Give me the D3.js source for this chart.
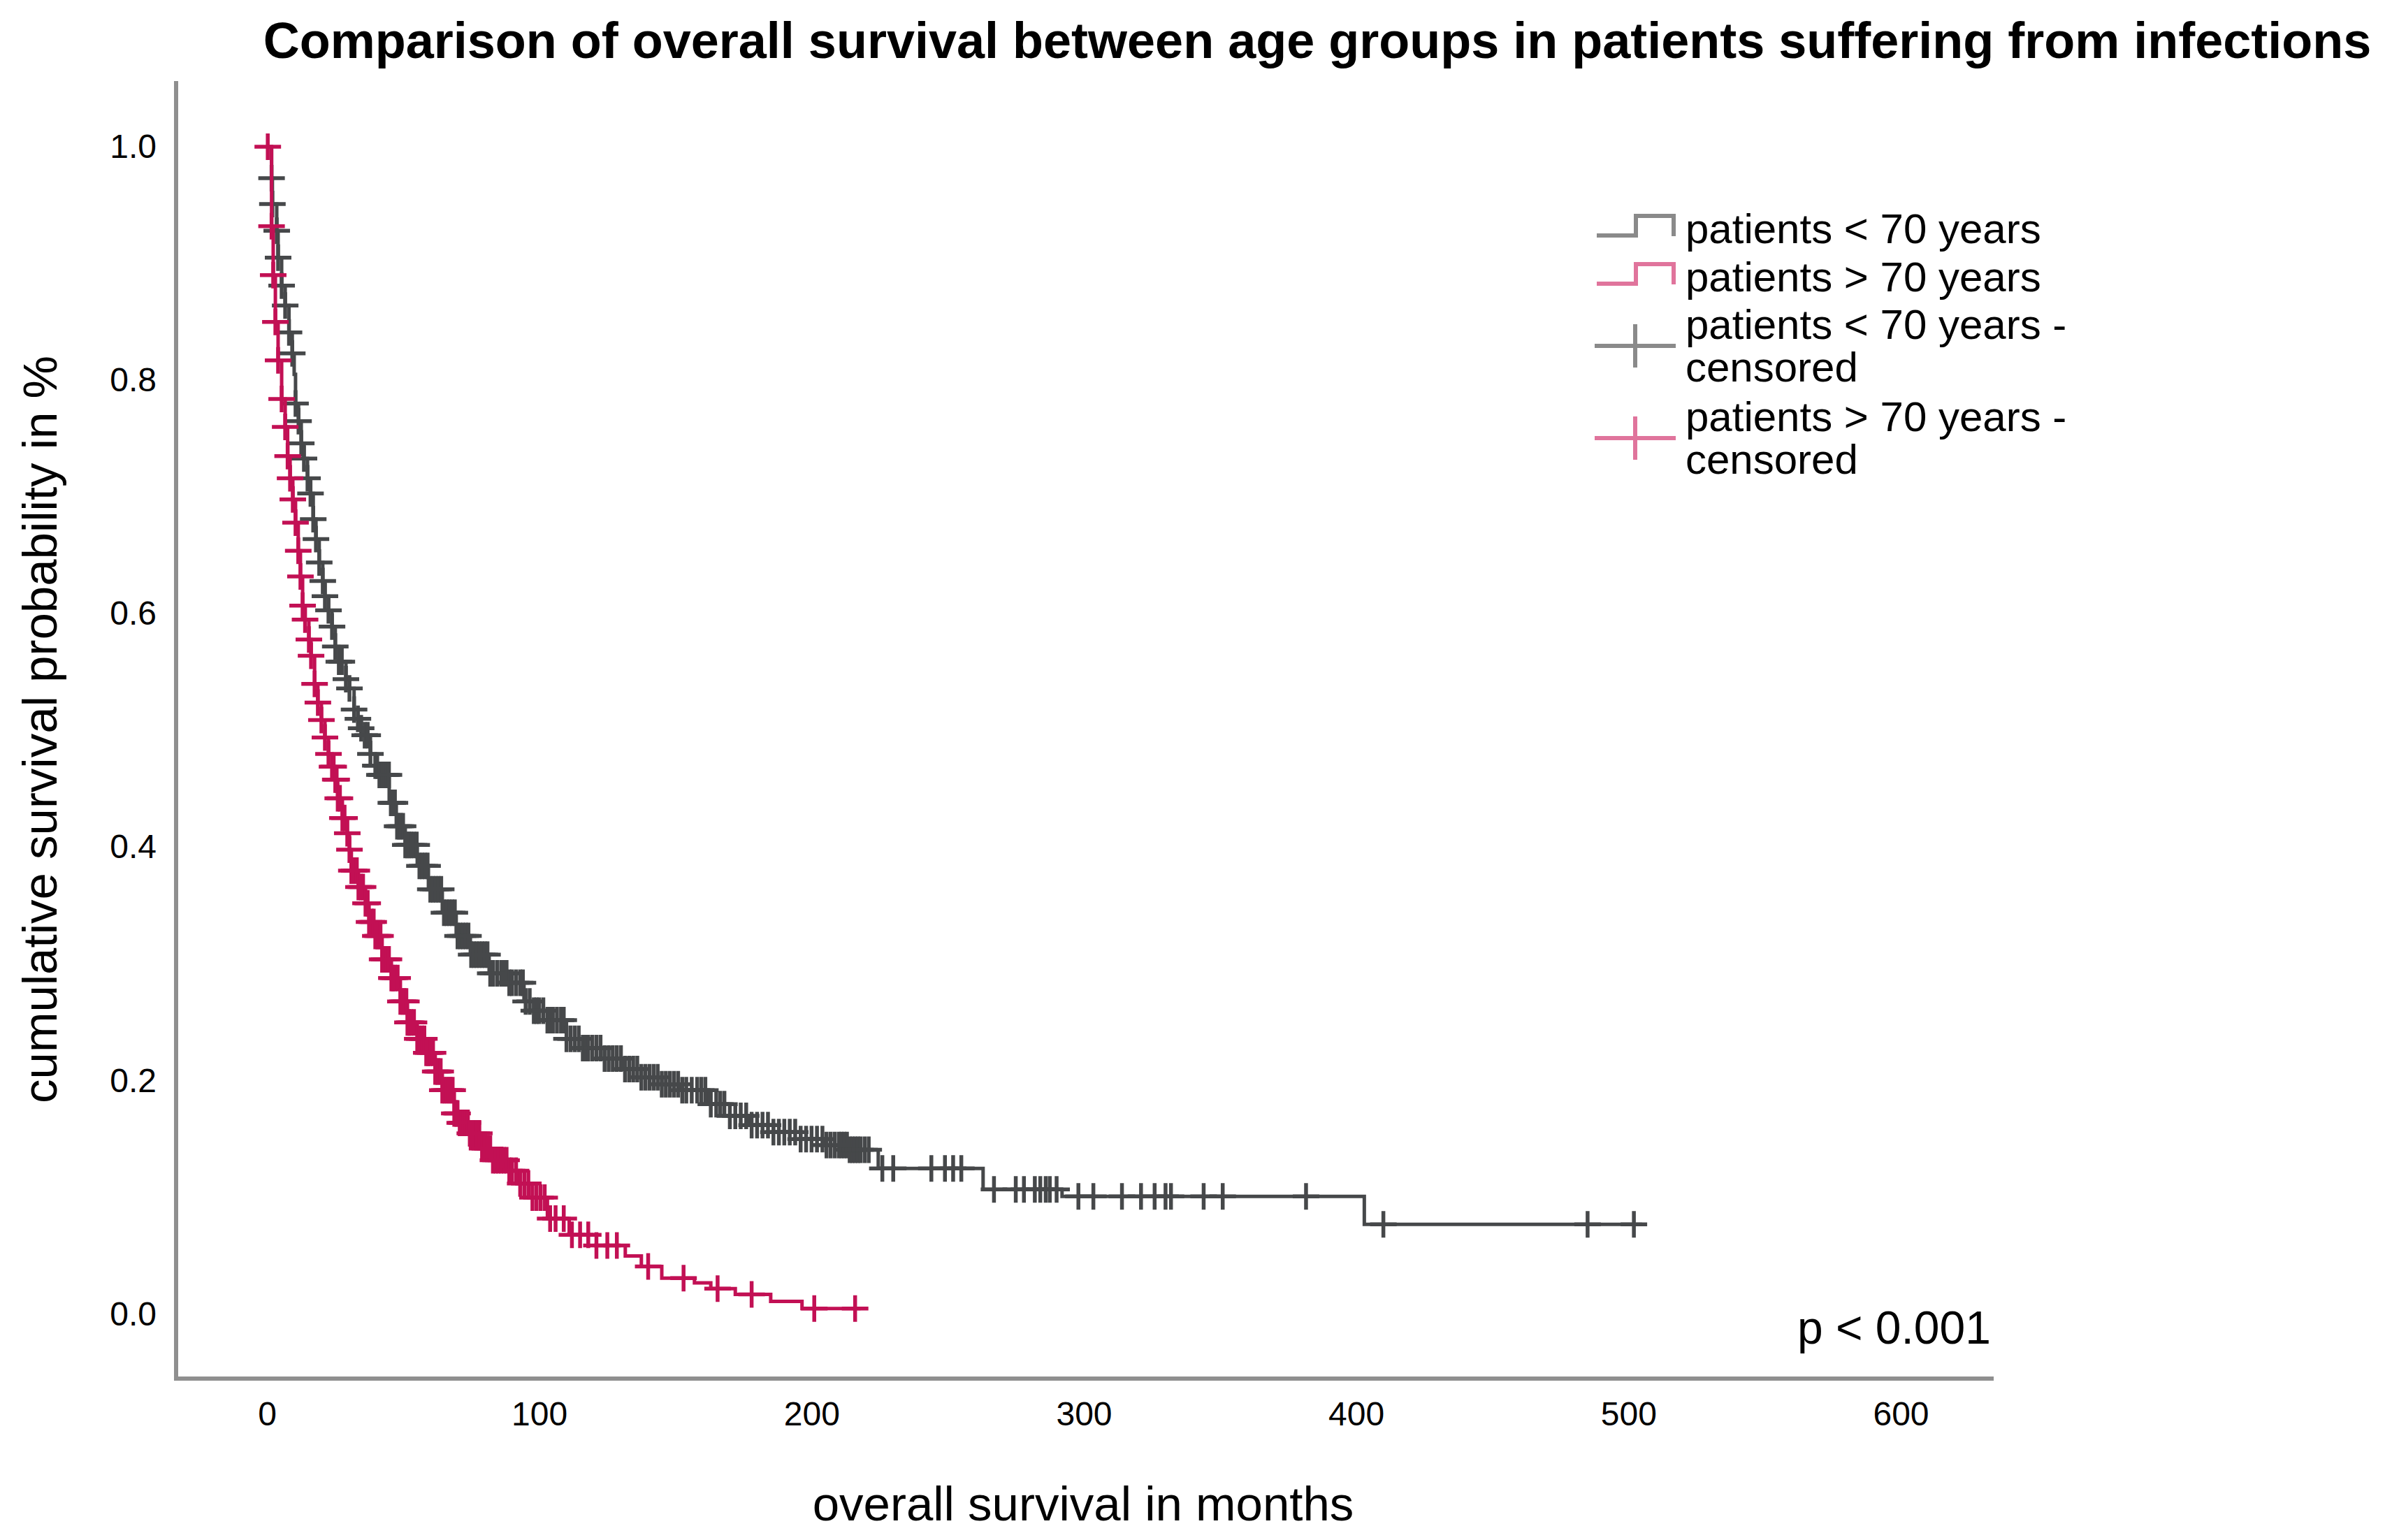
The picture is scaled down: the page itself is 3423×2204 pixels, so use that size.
<!DOCTYPE html>
<html>
<head>
<meta charset="utf-8">
<script src="https://cdn.jsdelivr.net/npm/d3@7"></script>
<style>
  html, body { margin: 0; padding: 0; background: #fff; }
  svg { display: block; font-family: "Liberation Sans", Arial, sans-serif; }
</style>
</head>
<body>
<div id="chart"></div>
<script>
// Kaplan-Meier steps (months, survival)
const youngTimes = [0, 1.7, 2, 3.6, 4.1, 5.4, 6.7, 8.1, 9.3, 10, 10.5, 11.6, 12.6, 13.6, 14.9, 16, 17, 18, 19.2, 20.5,
  21.3, 22.6, 23.9, 25.1, 26.4, 29, 30.3, 32, 33.4, 34.6, 35.9, 38, 39.8, 41.3, 44.9, 47.5, 50.8, 55.2, 59.3, 64.4,
  69.5, 74.7, 81.6, 88.5, 94.4, 98, 103, 110, 116, 122.7, 131, 137.5, 145, 152, 162, 170, 177, 186, 196, 205,
  214, 224.5, 263, 292, 403]
const youngSurv = [1, 0.973, 0.951, 0.928, 0.905, 0.881, 0.864, 0.841, 0.823, 0.805, 0.78, 0.765, 0.746, 0.733, 0.716, 0.703, 0.681, 0.664, 0.644, 0.628,
  0.615, 0.603, 0.589, 0.572, 0.559, 0.544, 0.536, 0.518, 0.51, 0.502, 0.496, 0.48, 0.47, 0.462, 0.438, 0.418, 0.402, 0.384, 0.364, 0.344,
  0.324, 0.308, 0.292, 0.284, 0.268, 0.26, 0.252, 0.236, 0.228, 0.219, 0.21, 0.203, 0.197, 0.192, 0.18, 0.17, 0.162, 0.156, 0.15, 0.145,
  0.141, 0.125, 0.107, 0.101, 0.077]
const youngEnd = 505
const youngCensored = [1.7, 2, 3.6, 4.1, 5.4, 6.7, 8.1, 9.3, 10.5, 11.6, 12.6, 13.6, 14.9, 16, 17, 18, 19.2, 20.5, 21.3, 22.6,
  23.9, 25.1, 26.4, 27.5, 29, 30.3, 32, 33.4, 34.6, 35.9, 37, 38, 39.8, 40.5, 41.3, 42, 42.5, 43.3, 44, 44.8,
  45.5, 46.2, 47, 47.8, 48.5, 49.2, 50, 50.8, 51.5, 52.3, 53, 54, 55, 56, 57, 58, 59, 60, 61, 62,
  63, 64, 65, 66, 67, 68, 69, 70, 71, 72, 73, 74, 75, 76, 77, 78, 79, 80, 81, 82,
  83, 84.5, 86, 87, 88, 89, 90, 91.5, 93, 94, 95, 96.5, 98, 99, 100, 101.5, 103, 104, 105, 106.5,
  108, 109, 110, 111.5, 113, 114.5, 116, 117, 118, 119.5, 121, 122.5, 124, 125.5, 127, 128.5, 130, 131.5, 133, 134.5,
  136, 137.5, 139, 140.5, 142, 143.5, 145, 146.5, 148, 149.5, 151, 152.5, 154, 156, 158, 159.5, 161, 163, 165, 166.5,
  168, 170, 172, 174, 176, 178, 180, 182, 184, 186, 188, 190, 192, 194, 196, 198, 200, 202, 204, 205.5,
  207, 208.5, 210, 211, 212, 213, 214, 215, 216, 217, 218, 219.5, 221, 226, 230, 244, 249, 252, 255, 267,
  275, 278, 282, 284, 286, 287.5, 290, 298, 303.5, 314, 321, 326, 330, 332, 344, 351, 381.6, 410, 485, 502]

const oldTimes = [0, 1.7, 2.3, 3.1, 4.1, 5.4, 6.7, 7.6, 8.5, 9.5, 10.5, 11.5, 12.3, 13.1, 14, 15.4, 16.2, 17.5, 18.7, 20,
  21.3, 22.6, 23.9, 25.1, 26, 27.7, 29.5, 30.3, 31, 33.6, 36.2, 37.5, 39.8, 42.3, 45.7, 49, 51.6, 55.2, 58.5, 61.8,
  64.4, 68.8, 70.8, 74, 78.5, 83, 88.5, 92, 96.2, 103, 111, 121, 131.6, 137.5, 145, 157, 163, 172, 185, 196.5]
const oldSurv = [1, 0.932, 0.89, 0.85, 0.817, 0.784, 0.76, 0.735, 0.716, 0.698, 0.678, 0.654, 0.632, 0.607, 0.595, 0.578, 0.564, 0.54, 0.524, 0.509,
  0.494, 0.48, 0.469, 0.458, 0.442, 0.425, 0.412, 0.398, 0.38, 0.366, 0.352, 0.336, 0.324, 0.304, 0.288, 0.268, 0.25, 0.236, 0.224, 0.208,
  0.192, 0.172, 0.164, 0.155, 0.142, 0.132, 0.123, 0.112, 0.1, 0.082, 0.068, 0.059, 0.05, 0.041, 0.031, 0.027, 0.022, 0.017, 0.011, 0.005]
const oldEnd = 218
const oldCensored = [0.3, 1.7, 2.3, 3.1, 4.1, 5.4, 6.7, 7.6, 8.5, 9.5, 10.5, 11.5, 12.3, 13.1, 14, 15.4, 16.2, 17.5, 18.7, 20,
  21.3, 22.6, 23.9, 24.5, 25.1, 25.6, 26, 26.8, 27.7, 28.5, 29.5, 30.3, 31, 32, 33, 33.6, 34.5, 35.3, 36.2, 37,
  37.5, 38.5, 39.2, 39.8, 40.5, 41, 41.7, 42.3, 43, 44, 44.8, 45.7, 46.3, 47, 48, 49, 49.8, 50.5, 51.2, 51.6,
  52.3, 53, 54, 55.2, 56, 57, 57.8, 58.5, 59.2, 60, 61, 61.8, 62.5, 63, 63.8, 64.4, 65.2, 66, 66.8, 67.5,
  68.2, 68.8, 69.5, 70, 70.8, 71.5, 72.3, 73, 73.8, 74.5, 75.2, 76, 77, 78, 79, 80, 81, 82, 83, 84,
  85, 86, 87, 88, 89, 90, 91.5, 93, 94.5, 96, 97.5, 99, 100.5, 102, 104, 106, 109, 112, 115, 118,
  121, 125, 128.5, 140, 153, 165.5, 178, 201, 216]

const xTicks = [0, 100, 200, 300, 400, 500, 600]
const yTicks = [0, 0.2, 0.4, 0.6, 0.8, 1.0]
const legendLabels = [['patients < 70 years'], ['patients > 70 years'], ['patients < 70 years -', 'censored'], ['patients > 70 years -', 'censored']]

const TITLE = 'Comparison of overall survival between age groups in patients suffering from infections'
const X_TITLE = 'overall survival in months'
const Y_TITLE = 'cumulative survival probability in %'

const W = 3423
const H = 2204
const GREY = '#46484a'
const RED = '#c21054'
const AXIS = '#8f8f8f'

const svg = d3.select('#chart').append('svg')
  .attr('width', W).attr('height', H)
  .attr('viewBox', `0 0 ${W} ${H}`)
svg.append('rect').attr('width', W).attr('height', H).attr('fill', '#fff')

const x = d3.scaleLinear().domain([0, 600]).range([382, 2720])
const y = d3.scaleLinear().domain([0, 1]).range([1881, 210])

// frame
const frame = { left: 252, top: 116, right: 2853, bottom: 1973 }
svg.append('line')
  .attr('x1', frame.left).attr('x2', frame.left)
  .attr('y1', frame.top).attr('y2', frame.bottom + 3)
  .attr('stroke', AXIS).attr('stroke-width', 6)
svg.append('line')
  .attr('x1', frame.left - 3).attr('x2', frame.right)
  .attr('y1', frame.bottom).attr('y2', frame.bottom)
  .attr('stroke', AXIS).attr('stroke-width', 6)

// axes: labels only
const xAxis = svg.append('g')
  .attr('transform', `translate(0,${frame.bottom})`)
  .call(d3.axisBottom(x).tickValues(xTicks).tickSize(0).tickPadding(33).tickFormat(d3.format('d')))
const yAxis = svg.append('g')
  .attr('transform', `translate(${frame.left},0)`)
  .call(d3.axisLeft(y).tickValues(yTicks).tickSize(0).tickPadding(28).tickFormat(d3.format('.1f')))
;[xAxis, yAxis].forEach(ax => {
  ax.select('.domain').remove()
  ax.selectAll('text')
    .attr('font-family', '"Liberation Sans", Arial, sans-serif')
    .attr('font-size', 48)
    .attr('fill', '#000')
})

// curves
const stepLine = d3.line()
  .x(d => x(d[0]))
  .y(d => y(d[1]))
  .curve(d3.curveStepAfter)

function survivalAt (times, surv, t) {
  const i = d3.bisectRight(times, t) - 1
  return surv[Math.max(0, i)]
}

const series = [
  { times: youngTimes, surv: youngSurv, end: youngEnd, censored: youngCensored, color: GREY },
  { times: oldTimes, surv: oldSurv, end: oldEnd, censored: oldCensored, color: RED }
]

const cross = (cx, cy, hw, hh) => `M${cx - hw},${cy}H${cx + hw}M${cx},${cy - hh}V${cy + hh}`

series.forEach(s => {
  const pts = s.times.map((t, i) => [t, s.surv[i]])
  pts.push([s.end, s.surv[s.surv.length - 1]])
  const g = svg.append('g')
  g.append('path')
    .datum(pts)
    .attr('d', stepLine)
    .attr('fill', 'none')
    .attr('stroke', s.color)
    .attr('stroke-width', 5)
  g.selectAll('path.censor')
    .data(s.censored)
    .join('path')
    .attr('class', 'censor')
    .attr('d', t => cross(x(t), y(survivalAt(s.times, s.surv, t)), 19, 19))
    .attr('fill', 'none')
    .attr('stroke', s.color)
    .attr('stroke-width', 5.5)
})

// p value
svg.append('text')
  .attr('x', frame.right - 4).attr('y', 1923)
  .attr('text-anchor', 'end')
  .attr('font-size', 66)
  .attr('fill', '#000')
  .text('p < 0.001')

// titles
svg.append('text')
  .attr('x', 1885).attr('y', 83)
  .attr('text-anchor', 'middle')
  .attr('font-size', 72)
  .attr('font-weight', 'bold')
  .attr('fill', '#000')
  .text(TITLE)

svg.append('text')
  .attr('x', 1550).attr('y', 2176)
  .attr('text-anchor', 'middle')
  .attr('font-size', 69)
  .attr('fill', '#000')
  .text(X_TITLE)

svg.append('text')
  .attr('transform', 'translate(81,1044) rotate(-90)')
  .attr('text-anchor', 'middle')
  .attr('font-size', 69)
  .attr('fill', '#000')
  .text(Y_TITLE)

// legend
const legend = svg.append('g').attr('class', 'legend')
const legendColors = ['#8a8a8a', '#e0749c', '#8a8a8a', '#e0749c']
const legendBase = [348, 417, 485, 617]
legendLabels.forEach((lines, i) => {
  const base = legendBase[i]
  if (i < 2) {
    legend.append('path')
      .attr('d', `M2285,${base - 11}H2341V${base - 39}H2395V${base - 10}`)
      .attr('fill', 'none')
      .attr('stroke', legendColors[i])
      .attr('stroke-width', 6)
  } else {
    legend.append('path')
      .attr('d', cross(2340, base + 10, 58, 31))
      .attr('fill', 'none')
      .attr('stroke', legendColors[i])
      .attr('stroke-width', 6)
  }
  const txt = legend.append('text')
    .attr('x', 2412).attr('y', base)
    .attr('font-size', 60)
    .attr('fill', '#000')
  lines.forEach((line, j) => {
    txt.append('tspan')
      .attr('x', 2412)
      .attr('dy', j === 0 ? 0 : 61)
      .text(line)
  })
})
</script>
</body>
</html>
